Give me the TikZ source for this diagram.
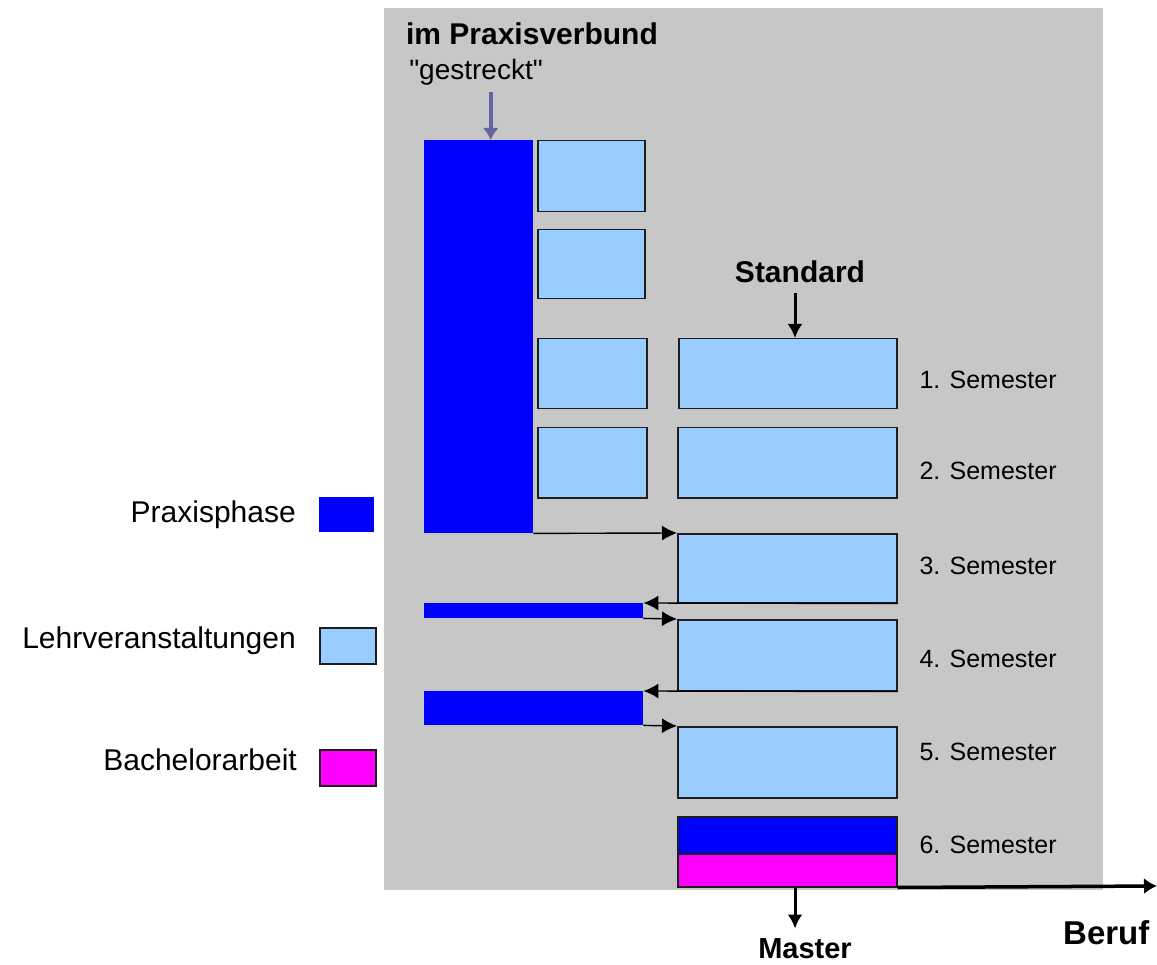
\documentclass[tikz,border=0pt]{standalone}
\usepackage{fontspec}
\newfontfamily\arialfont{Liberation Sans}
\usetikzlibrary{arrows.meta}

\definecolor{bggray}{RGB}{199,199,199}
\definecolor{phase}{RGB}{0,0,255}
\definecolor{lehre}{RGB}{153,204,255}
\definecolor{thesis}{RGB}{255,0,255}
\definecolor{edge}{RGB}{30,30,30}
\definecolor{pointer}{RGB}{100,100,165}

\tikzset{
    box/.style={draw=edge, line width=1.5pt, inner sep=0pt, anchor=north west},
    lv/.style={box, fill=lehre},
    pp/.style={fill=phase, inner sep=0pt, anchor=north west},
    ppbox/.style={box, fill=phase},
    ba/.style={box, fill=thesis},
    conn/.style={line width=1.4pt, draw=black, -{Latex[length=15pt,width=15pt]}},
    down/.style={line width=3pt, draw=black, -{Latex[length=14pt,width=15pt]}},
    semtext/.style={anchor=base west, font=\arialfont\fontsize{25}{30}\selectfont},
    legtext/.style={anchor=base east, inner sep=0pt, font=\arialfont\fontsize{30}{36}\selectfont},
    headtext/.style={anchor=base, font=\arialfont\bfseries\fontsize{30}{36}\selectfont},
}

\begin{document}
\begin{tikzpicture}[x=1pt, y=-1pt]

    \useasboundingbox (0,0) rectangle (1157,965);
    \fill[bggray] (384,8) rectangle (1103,890);

    % x, y of the upper left corner, then width and height
    \newcommand{\blk}[6]{
        \node[#2, minimum width=#5, minimum height=#6] (#1) at (#3,#4) {};
    }

    % im Praxisverbund
    \blk{praxis}{pp}{424}{140}{109}{393}
    \blk{l1}{lv}{537}{140}{107}{71}
    \blk{l2}{lv}{537}{229}{107}{69}
    \blk{l3}{lv}{537}{338}{109}{70}
    \blk{l4}{lv}{537}{427}{109}{70}
    \blk{bar1}{pp}{424}{603}{219}{15}
    \blk{bar2}{pp}{424}{691}{219}{34}

    % Standard
    \blk{sem1}{lv}{678}{338}{218}{70}
    \blk{sem2}{lv}{677}{427}{219}{70}
    \blk{sem3}{lv}{677}{533}{219}{69}
    \blk{sem4}{lv}{677}{619}{219}{71}
    \blk{sem5}{lv}{677}{726}{219}{71}
    \blk{pp6}{ppbox}{677}{816}{219}{37}
    \blk{ba6}{ba}{677}{853}{219}{33}

    % legend
    \blk{legp}{pp}{319}{497}{55}{35}
    \blk{legl}{lv}{319}{627}{56}{36}
    \blk{legb}{ba}{319}{749}{56}{36}
    \node[legtext] (tp) at (296,522) {Praxisphase};
    \node[legtext] (tl) at (296,648) {Lehrveranstaltungen};
    \node[legtext] (tb) at (297,770) {Bachelorarbeit};

    \foreach \n/\y in {1/389,2/479,3/574,4/667,5/760,6/853}
        \node[semtext] (s\n) at (916,\y) {\n. Semester};

    \node[headtext] (verbund) at (532,45) {im Praxisverbund};
    \node[anchor=base, font=\arialfont\fontsize{28}{34}\selectfont] (gestreckt) at (476,80) {"gestreckt"};
    \node[headtext] (standard) at (800,283) {Standard};
    \node[headtext, font=\arialfont\bfseries\fontsize{29}{35}\selectfont] (master) at (805,958) {Master};
    \node[anchor=base west, inner sep=0pt, font=\arialfont\bfseries\fontsize{33}{40}\selectfont] (beruf) at (1063,944) {Beruf};
    \coordinate (berufend) at (1157,886);

    \draw[conn] (praxis.south east) -- (sem3.north west);
    \draw[conn] (sem3.south east) -- (bar1.north east);
    \draw[conn] (bar1.south east) -- (sem4.north west);
    \draw[conn] (sem4.south east) -- (bar2.north east);
    \draw[conn] (bar2.south east) -- (sem5.north west);
    \draw[line width=3.5pt, -{Latex[length=13pt,width=16pt]}] (ba6.south east) -- (berufend);

    \draw[down, shorten <=6pt] ([xshift=-5pt]standard.south) -- ([xshift=-5pt]standard.south |- sem1.north);
    \draw[down, shorten >=6pt] ([xshift=-10pt]master.north |- ba6.south) -- ([xshift=-10pt]master.north);
    \draw[line width=4pt, draw=pointer, -{Latex[length=12pt,width=16pt]}, shorten <=3pt]
        ([xshift=12pt]praxis.north |- gestreckt.south) -- ([xshift=12pt]praxis.north);

\end{tikzpicture}
\end{document}
